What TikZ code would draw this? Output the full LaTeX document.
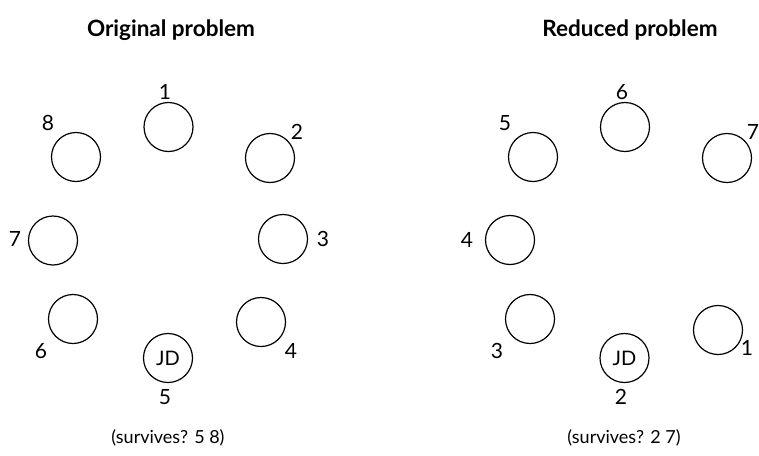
\documentclass[tikz,border=0pt]{standalone}
\usepackage{fontspec}
\setmainfont{Lato}
\begin{document}
\begin{tikzpicture}[x=1pt,y=-1pt,
  seat/.style={draw,circle,minimum size=49pt,inner sep=0pt,line width=1.2pt,font=\fontsize{20}{24}\selectfont},
  num/.style={inner sep=0pt,font=\fontsize{21}{24}\selectfont},
  ttl/.style={inner sep=0pt,font=\fontsize{22.5}{26}\selectfont\bfseries},
  bottomtxt/.style={inner sep=0pt,font=\fontsize{18}{22}\selectfont}]
\useasboundingbox (0,0) rectangle (759,455);
% titles
\node[ttl] (t1) at (171,30) {Original problem};
\node[ttl] (t2) at (630,30) {Reduced problem};
% left circle
\node[seat] (a1) at (168.5,127) {};
\node[seat] (a2) at (270,158) {};
\node[seat] (a3) at (283,239) {};
\node[seat] (a4) at (261,322) {};
\node[seat] (a5) at (168,358) {JD};
\node[seat] (a6) at (73,319) {};
\node[seat] (a7) at (53,240.5) {};
\node[seat] (a8) at (76,157) {};
\node[num] (la1) at (165,92) {1};
\node[num] (la2) at (297,132) {2};
\node[num] (la3) at (323,239) {3};
\node[num] (la4) at (291,351) {4};
\node[num] (la5) at (165,397) {5};
\node[num] (la6) at (41,351) {6};
\node[num] (la7) at (15,239) {7};
\node[num] (la8) at (48,123) {8};
\node[bottomtxt] (s1) at (168,438) {(survives? 5 8)};
% right circle
\node[seat] (b6) at (625,127) {};
\node[seat] (b7) at (727,158) {};
\node[seat] (b1) at (718,330) {};
\node[seat] (b2) at (624.5,358) {JD};
\node[seat] (b3) at (530,319) {};
\node[seat] (b4) at (510,240) {};
\node[seat] (b5) at (533,157) {};
\node[num] (lb6) at (622,92) {6};
\node[num] (lb7) at (753,132) {7};
\node[num] (lb1) at (747,348) {1};
\node[num] (lb2) at (621,397) {2};
\node[num] (lb3) at (497,351) {3};
\node[num] (lb4) at (467,240) {4};
\node[num] (lb5) at (505,123) {5};
\node[bottomtxt] (s2) at (624,438) {(survives? 2 7)};
\end{tikzpicture}
\end{document}
